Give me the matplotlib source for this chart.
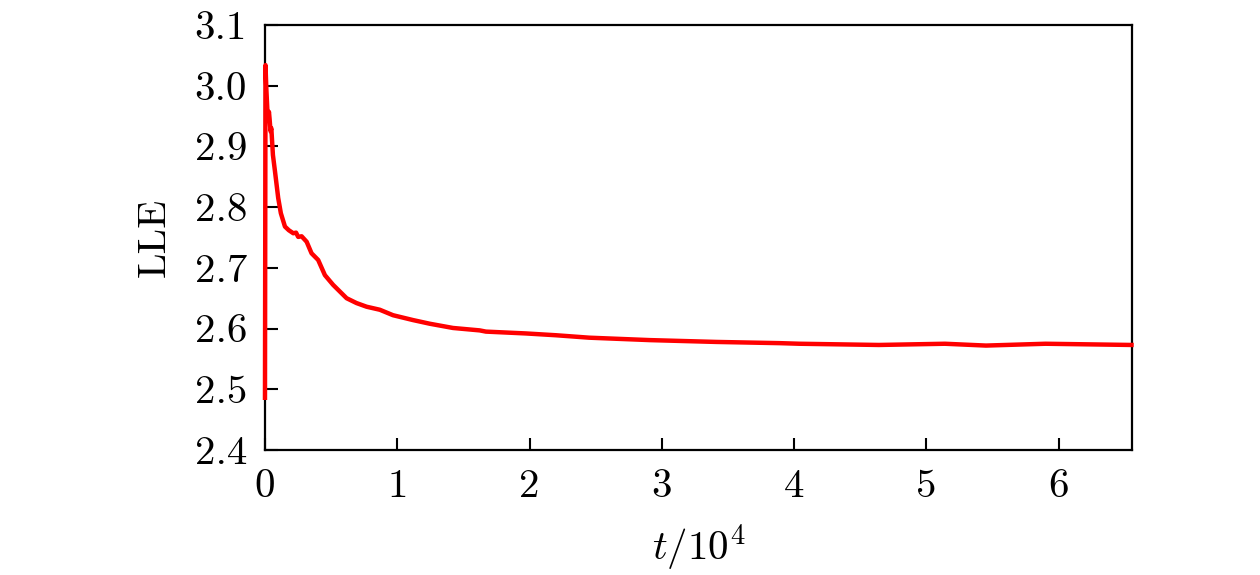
import matplotlib
matplotlib.use("Agg")
import matplotlib.pyplot as plt

plt.rcParams['font.family'] = ['cmr10', 'DejaVu Serif']
plt.rcParams['mathtext.fontset'] = 'cm'
plt.rcParams['axes.formatter.use_mathtext'] = True

# values (t in units of 10^4)
t = [0.0, 0.004, 0.01, 0.018, 0.025, 0.03, 0.035, 0.042, 0.048, 0.06,
     0.075, 0.085, 0.1, 0.12, 0.151, 0.18, 0.214, 0.235, 0.251, 0.277,
     0.315, 0.352, 0.402, 0.453, 0.515, 0.566, 0.617, 0.692, 0.768, 0.868,
     0.968, 1.119, 1.245, 1.421, 1.623, 1.67, 1.97, 2.2, 2.45, 2.91,
     3.41, 3.89, 4.04, 4.64, 5.14, 5.45, 5.9, 6.55]
lle = [2.486, 3.034, 2.996, 2.96, 2.95, 2.957, 2.945, 2.925, 2.93, 2.886,
       2.86, 2.842, 2.815, 2.79, 2.768, 2.762, 2.757, 2.758, 2.751, 2.752,
       2.743, 2.724, 2.713, 2.688, 2.672, 2.661, 2.650, 2.642, 2.636, 2.631,
       2.622, 2.614, 2.608, 2.601, 2.597, 2.595, 2.592, 2.589, 2.585, 2.581,
       2.578, 2.576, 2.575, 2.573, 2.575, 2.572, 2.575, 2.573]

xticks = [0, 1, 2, 3, 4, 5, 6]
yticks = [2.4, 2.5, 2.6, 2.7, 2.8, 2.9, 3.0, 3.1]

fig = plt.figure(figsize=(12.6, 5.75), dpi=100)
ax = fig.add_axes([0.2103, 0.2174, 0.6881, 0.7391])
# the t=0 spike sits on the left spine in the reference, so draw over it
ax.plot(t, lle, color='#ff0000', lw=3.2, clip_on=False, zorder=3)

ax.set_xlim(0, 6.5536)
ax.set_ylim(2.4, 3.1)
ax.set_xticks(xticks)
ax.set_yticks(yticks)
ax.set_xticklabels([str(v) for v in xticks])
ax.set_yticklabels(['%.1f' % v for v in yticks])
ax.tick_params(direction='in', length=9, width=1.5, labelsize=29.5)
ax.tick_params(axis='x', pad=14)
ax.tick_params(axis='y', pad=13)
for s in ax.spines.values():
    s.set_linewidth(1.6)

ax.set_xlabel(r'$t/10^4$', fontsize=29.5, labelpad=12)
ax.set_ylabel('LLE', fontsize=29.5, labelpad=16)

fig.savefig('out.png', dpi=100)
